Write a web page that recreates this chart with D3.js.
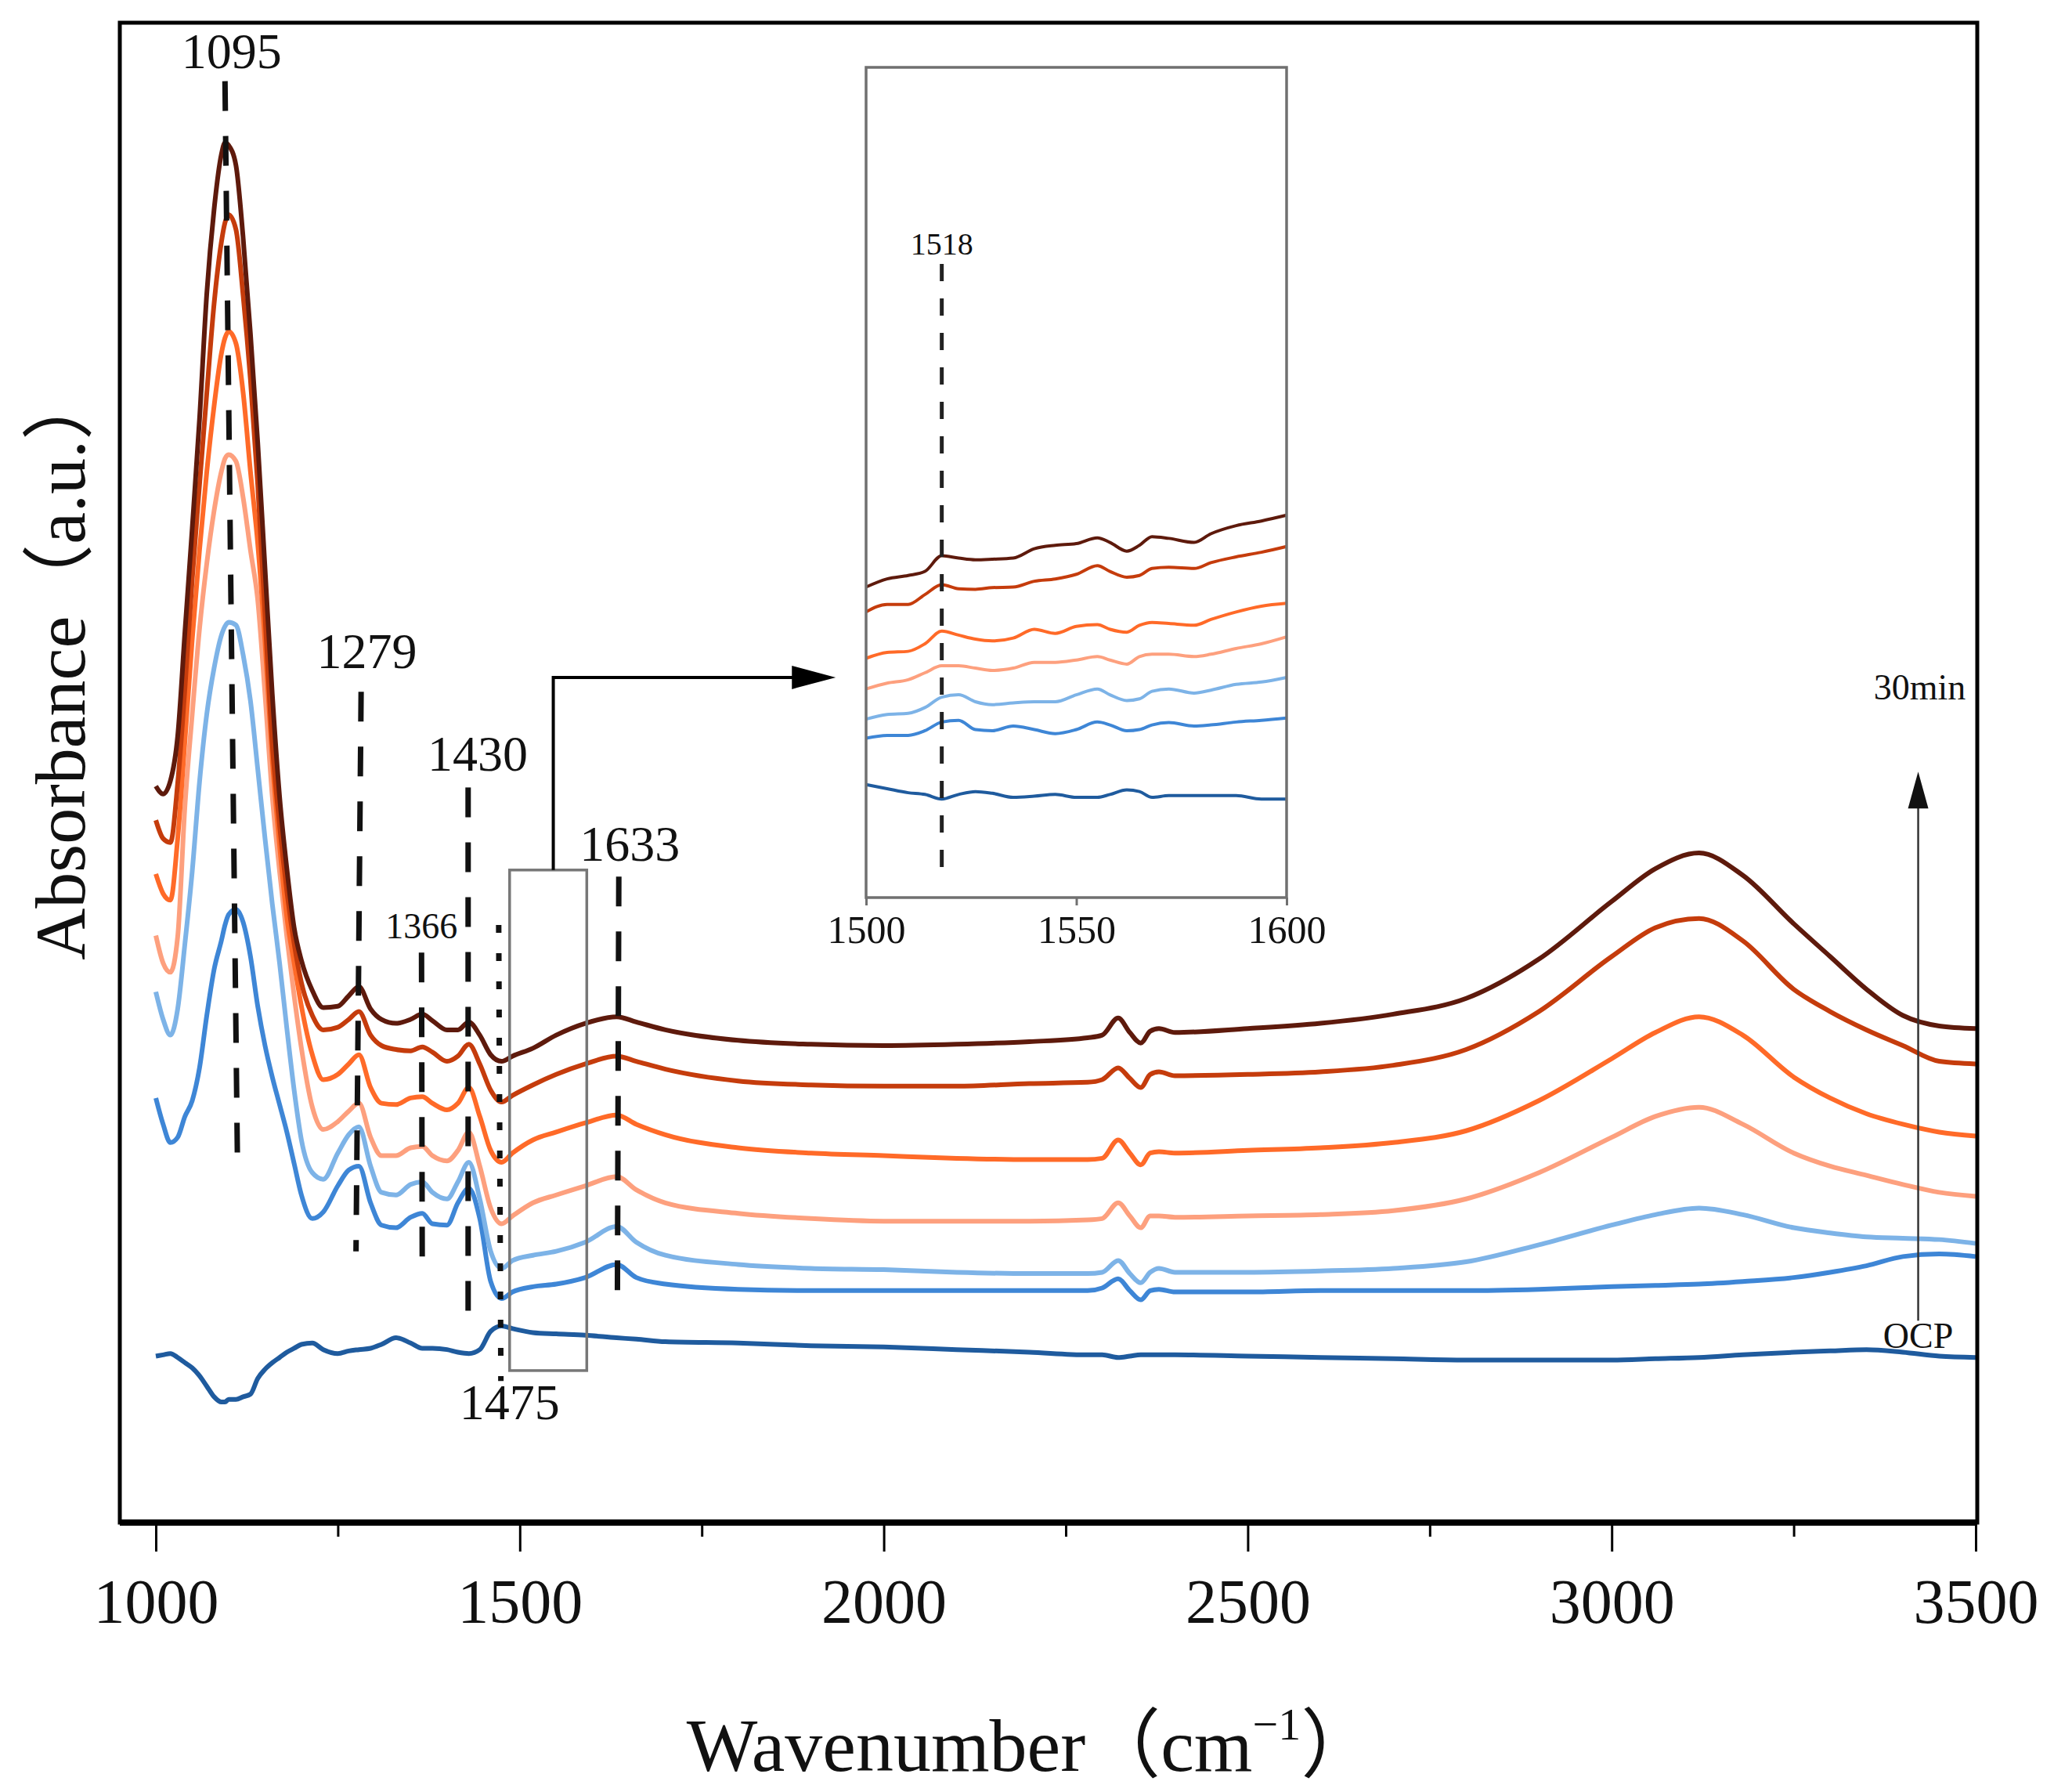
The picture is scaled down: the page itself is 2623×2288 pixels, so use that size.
<!DOCTYPE html>
<html>
<head>
<meta charset="utf-8">
<script src="https://cdn.jsdelivr.net/npm/d3@7"></script>
<style>
  body { margin: 0; background: #fff; }
  text { font-family: "Liberation Serif", "Times New Roman", "Noto Sans CJK SC", serif; fill: #111; }
</style>
</head>
<body>
<div id="canvas"></div>
<script>
var w = 2623;
var h = 2288;

// wavenumbers (cm-1) shared by all spectra of the main plot
var wavenumbers = [1000, 1010, 1020, 1030, 1040, 1050, 1060, 1070, 1080, 1090, 1095, 1100, 1110, 1120, 1130, 1140,
  1150, 1160, 1170, 1180, 1190, 1200, 1215, 1230, 1250, 1265, 1279, 1295, 1310, 1330, 1350, 1366, 1380, 1400,
  1415, 1430, 1445, 1460, 1475, 1490, 1518, 1550, 1590, 1633, 1660, 1700, 1800, 1900, 2000, 2100, 2200, 2280,
  2300, 2322, 2338, 2353, 2366, 2378, 2400, 2500, 2600, 2700, 2800, 2900, 3000, 3060, 3120, 3180, 3250, 3300,
  3350, 3400, 3450, 3500];

var seriesNames = ["OCP", "5min", "10min", "15min", "20min", "25min", "30min"];
var seriesColors = ["#1f5b9e", "#3e86d6", "#7db3e7", "#fda07e", "#ff6a28", "#c53c0c", "#5e1a0c"];

// absorbance (stacked, arbitrary units x1000)
var ocp = [127, 128, 129, 126, 122, 118, 112, 104, 96, 92, 92, 94, 94, 96, 98, 110, 117, 122, 126, 130, 133, 136,
  137, 132, 129, 131, 132, 133, 136, 141, 137, 133, 133, 132, 130, 129, 132, 146, 150, 148, 145, 144, 143, 141,
  140, 138, 137, 135, 134, 132, 130, 128, 128, 126, 127, 128, 128, 128, 128, 127, 126, 125, 124, 124, 124, 125,
  126, 128, 130, 131, 132, 130, 127, 126];
var min5 = [324, 304, 290, 294, 310, 322, 347, 387, 422, 444, 456, 464, 468, 458, 432, 394, 364, 340, 319, 298,
  274, 250, 232, 237, 257, 269, 272, 244, 227, 225, 233, 236, 228, 227, 244, 255, 232, 184, 171, 176, 180, 182,
  187, 197, 187, 182, 178, 177, 177, 177, 177, 177, 179, 186, 177, 170, 177, 178, 176, 176, 177, 177, 177, 178,
  180, 181, 182, 184, 187, 191, 196, 203, 205, 203];
var min10 = [405, 384, 372, 392, 442, 497, 565, 617, 652, 677, 684, 687, 685, 662, 627, 575, 522, 472, 427, 377,
  330, 292, 267, 262, 282, 296, 302, 272, 252, 250, 258, 260, 252, 247, 260, 275, 247, 207, 194, 200, 204, 207,
  214, 226, 214, 204, 197, 194, 193, 191, 190, 190, 191, 200, 190, 183, 191, 194, 191, 191, 192, 194, 199, 212,
  227, 235, 240, 235, 225, 221, 218, 217, 216, 213];
var min15 = [448, 427, 420, 447, 547, 617, 682, 732, 772, 802, 812, 815, 810, 782, 742, 704, 632, 554, 497, 447,
  402, 362, 317, 300, 306, 314, 320, 294, 280, 280, 286, 287, 280, 276, 284, 298, 272, 240, 228, 234, 244, 250,
  257, 264, 254, 244, 236, 232, 230, 230, 230, 231, 232, 244, 234, 225, 234, 234, 233, 234, 235, 238, 247, 267,
  294, 310, 317, 304, 282, 272, 265, 258, 252, 249];
var min20 = [495, 480, 475, 522, 597, 674, 742, 802, 852, 892, 904, 909, 900, 862, 802, 747, 672, 582, 517, 462,
  427, 394, 357, 338, 342, 350, 357, 332, 320, 319, 324, 325, 320, 315, 320, 332, 310, 284, 275, 282, 292, 298,
  305, 311, 304, 296, 286, 282, 280, 278, 277, 277, 278, 292, 282, 273, 282, 283, 282, 284, 286, 290, 299, 322,
  354, 374, 386, 372, 340, 324, 312, 304, 298, 295];
var min25 = [536, 522, 519, 564, 637, 720, 792, 862, 930, 977, 992, 998, 987, 936, 872, 792, 692, 594, 532, 482,
  442, 412, 387, 376, 378, 384, 390, 372, 364, 361, 360, 363, 359, 352, 356, 365, 350, 330, 321, 326, 334, 342,
  350, 356, 352, 346, 337, 334, 333, 333, 335, 336, 338, 347, 339, 332, 342, 344, 341, 342, 344, 349, 361, 390,
  432, 454, 461, 444, 407, 390, 376, 364, 352, 350];
var min30 = [562, 556, 566, 600, 680, 759, 842, 938, 1002, 1044, 1053, 1051, 1036, 980, 907, 824, 728, 632, 554,
  499, 454, 429, 406, 393, 394, 402, 409, 392, 384, 381, 384, 388, 383, 376, 376, 382, 372, 357, 352, 356, 362,
  372, 381, 386, 382, 376, 368, 365, 364, 365, 367, 370, 372, 385, 374, 366, 375, 377, 374, 377, 381, 388, 400,
  430, 474, 499, 511, 494, 457, 432, 407, 387, 379, 377];
var spectra = [ocp, min5, min10, min15, min20, min25, min30];

// inset (1500-1600 cm-1), own scale
var insetWavenumbers = [1500, 1505, 1510, 1514, 1518, 1522, 1526, 1530, 1535, 1540, 1545, 1550, 1555, 1558, 1562,
  1565, 1568, 1572, 1578, 1582, 1588, 1594, 1600];
var insetOcp = [195, 188, 181, 178, 170, 178, 183, 180, 173, 175, 178, 173, 173, 178, 186, 183, 173, 176, 176, 176, 176, 170, 170];
var insetMin5 = [275, 280, 280, 288, 303, 306, 290, 288, 296, 290, 283, 290, 303, 298, 288, 290, 298, 302, 296, 298, 303, 306, 310];
var insetMin10 = [308, 316, 318, 328, 346, 350, 338, 333, 336, 338, 338, 350, 360, 350, 340, 343, 356, 360, 353, 358, 368, 372, 380];
var insetMin15 = [360, 370, 376, 388, 400, 400, 396, 392, 396, 406, 406, 410, 416, 410, 403, 416, 420, 420, 416, 420, 430, 438, 450];
var insetMin20 = [413, 423, 425, 438, 460, 453, 446, 443, 448, 463, 456, 468, 471, 463, 458, 470, 475, 473, 470, 480, 493, 503, 508];
var insetMin25 = [493, 506, 506, 523, 540, 533, 532, 535, 536, 546, 550, 558, 573, 563, 553, 556, 568, 570, 568, 578, 588, 596, 606];
var insetMin30 = [536, 550, 556, 563, 590, 586, 583, 584, 586, 602, 608, 611, 621, 613, 598, 608, 623, 620, 613, 628, 642, 650, 660];
var insetSpectra = [insetOcp, insetMin5, insetMin10, insetMin15, insetMin20, insetMin25, insetMin30];

var xTicks = [1000, 1500, 2000, 2500, 3000, 3500];
var xMinorTicks = [1250, 1750, 2250, 2750, 3250];
var insetTicks = [1500, 1550, 1600];

// peak markers: label, x at top / bottom of line, line top / bottom, label position
var peaks = [
  {label: "1095", x1: 1095, x2: 1112, top: 1100, bottom: 281, lx: 1104, ly: 1110, size: 64, dots: false},
  {label: "1279", x1: 1282, x2: 1275, top: 634, bottom: 207, lx: 1290, ly: 652, size: 64, dots: false},
  {label: "1366", x1: 1365, x2: 1366, top: 435, bottom: 191, lx: 1365, ly: 446, size: 46, dots: false},
  {label: "1430", x1: 1429, x2: 1429, top: 561, bottom: 154, lx: 1442, ly: 574, size: 64, dots: false},
  {label: "1475", x1: 1471, x2: 1474, top: 456, bottom: 108, lx: 1486, ly: 79, size: 64, dots: true},
  {label: "1633", x1: 1636, x2: 1634, top: 493, bottom: 159, lx: 1651, ly: 505, size: 64, dots: false}
];

var svg = d3.select("#canvas").append("svg")
  .attr("width", w)
  .attr("height", h)
  .style("background-color", "white");

var frame = {left: 153, top: 29, right: 2525, bottom: 1944};

var x = d3.scaleLinear().domain([1000, 3500]).range([199, 2523]);
var y = d3.scaleLinear().domain([0, 1147]).range([1944, 25]);

var line = d3.line()
  .x(function(d) { return x(d[0]); })
  .y(function(d) { return y(d[1]); })
  .curve(d3.curveMonotoneX);

spectra.forEach(function(s, i) {
  svg.append("path")
    .datum(wavenumbers.map(function(wn, j) { return [wn, s[j]]; }))
    .attr("d", line)
    .attr("fill", "none")
    .attr("stroke", seriesColors[i])
    .attr("stroke-width", 6)
    .attr("stroke-linejoin", "round");
});

// frame
svg.append("rect")
  .attr("x", frame.left).attr("y", frame.top)
  .attr("width", frame.right - frame.left).attr("height", frame.bottom - frame.top)
  .attr("fill", "none").attr("stroke", "#000").attr("stroke-width", 5);
svg.append("line")
  .attr("x1", frame.left).attr("x2", frame.right)
  .attr("y1", frame.bottom).attr("y2", frame.bottom)
  .attr("stroke", "#000").attr("stroke-width", 8);

// x axis
var xAxis = svg.append("g")
  .attr("transform", "translate(0," + frame.bottom + ")")
  .call(d3.axisBottom(x).tickValues(xTicks).tickSize(37).tickPadding(34).tickFormat(d3.format("d")));
xAxis.select(".domain").remove();
xAxis.selectAll("line").attr("stroke", "#000").attr("stroke-width", 3);
xAxis.selectAll("text").attr("font-size", 80).attr("fill", "#111")
  .style("font-family", "'Liberation Serif', serif");

var xMinor = svg.append("g")
  .attr("transform", "translate(0," + frame.bottom + ")")
  .call(d3.axisBottom(x).tickValues(xMinorTicks).tickSize(18).tickFormat(""));
xMinor.select(".domain").remove();
xMinor.selectAll("line").attr("stroke", "#000").attr("stroke-width", 3);

// axis titles
var xTitle = svg.append("text")
  .attr("x", 1317).attr("y", 2261)
  .attr("text-anchor", "middle")
  .attr("font-size", 96);
xTitle.append("tspan").text("Wavenumber（cm");
xTitle.append("tspan").attr("font-size", 58).attr("dy", -40).text("−1");
xTitle.append("tspan").attr("dy", 40).text("）");

svg.append("text")
  .attr("transform", "translate(108,848) rotate(-90)")
  .attr("text-anchor", "middle")
  .attr("font-size", 92)
  .text("Absorbance（a.u.）");

// peak markers
peaks.forEach(function(p) {
  svg.append("line")
    .attr("x1", x(p.x1)).attr("y1", y(p.top))
    .attr("x2", x(p.x2)).attr("y2", y(p.bottom))
    .attr("stroke", "#111")
    .attr("stroke-width", 7)
    .attr("stroke-dasharray", p.dots ? "10,26" : "38,32");
  svg.append("text")
    .attr("x", x(p.lx)).attr("y", y(p.ly))
    .attr("text-anchor", "middle")
    .attr("font-size", p.size)
    .text(p.label);
});

// zoom box and connector to the inset
svg.append("rect")
  .attr("x", x(1486)).attr("y", y(498))
  .attr("width", x(1592) - x(1486)).attr("height", y(116) - y(498))
  .attr("fill", "none").attr("stroke", "#777").attr("stroke-width", 3.5);

var tipX = x(1934), arrowY = y(645);
svg.append("path")
  .attr("d", "M" + x(1546) + "," + y(498) + "V" + arrowY + "H" + (tipX - 50))
  .attr("fill", "none").attr("stroke", "#000").attr("stroke-width", 4);
svg.append("path")
  .attr("d", "M" + tipX + "," + arrowY + "L" + (tipX - 56) + "," + (arrowY - 15) + "L" + (tipX - 56) + "," + (arrowY + 15) + "Z")
  .attr("fill", "#000");

// time arrow OCP -> 30min
var ax = x(3421);
svg.append("line")
  .attr("x1", ax).attr("x2", ax)
  .attr("y1", y(154)).attr("y2", y(548))
  .attr("stroke", "#333").attr("stroke-width", 2.5);
svg.append("path")
  .attr("d", "M" + ax + "," + y(573) + "L" + (ax - 13) + "," + y(545) + "L" + (ax + 13) + "," + y(545) + "Z")
  .attr("fill", "#111");
svg.append("text").attr("x", x(3423)).attr("y", y(628))
  .attr("text-anchor", "middle").attr("font-size", 46).text("30min");
svg.append("text").attr("x", x(3421)).attr("y", y(133))
  .attr("text-anchor", "middle").attr("font-size", 46).text("OCP");

// inset
var inset = {left: 1106, right: 1643, top: 86, bottom: 1146};
var ix = d3.scaleLinear().domain([1500, 1600]).range([inset.left, inset.right]);
var iy = d3.scaleLinear().domain([0, 1433]).range([inset.bottom, inset.top]);

var insetLine = d3.line()
  .x(function(d) { return ix(d[0]); })
  .y(function(d) { return iy(d[1]); })
  .curve(d3.curveMonotoneX);

insetSpectra.forEach(function(s, i) {
  svg.append("path")
    .datum(insetWavenumbers.map(function(wn, j) { return [wn, s[j]]; }))
    .attr("d", insetLine)
    .attr("fill", "none")
    .attr("stroke", seriesColors[i])
    .attr("stroke-width", 4);
});

svg.append("line")
  .attr("x1", ix(1518)).attr("x2", ix(1518))
  .attr("y1", 337).attr("y2", 1125)
  .attr("stroke", "#222").attr("stroke-width", 5)
  .attr("stroke-dasharray", "22,22");
svg.append("text").attr("x", ix(1518)).attr("y", 325)
  .attr("text-anchor", "middle").attr("font-size", 40).text("1518");

svg.append("rect")
  .attr("x", inset.left).attr("y", inset.top)
  .attr("width", inset.right - inset.left).attr("height", inset.bottom - inset.top)
  .attr("fill", "none").attr("stroke", "#707070").attr("stroke-width", 3.5);

var insetAxis = svg.append("g")
  .attr("transform", "translate(0," + inset.bottom + ")")
  .call(d3.axisBottom(ix).tickValues(insetTicks).tickSize(10).tickPadding(12).tickFormat(d3.format("d")));
insetAxis.select(".domain").remove();
insetAxis.selectAll("line").attr("stroke", "#707070").attr("stroke-width", 3);
insetAxis.selectAll("text").attr("font-size", 50).attr("fill", "#111")
  .style("font-family", "'Liberation Serif', serif");
</script>
</body>
</html>
